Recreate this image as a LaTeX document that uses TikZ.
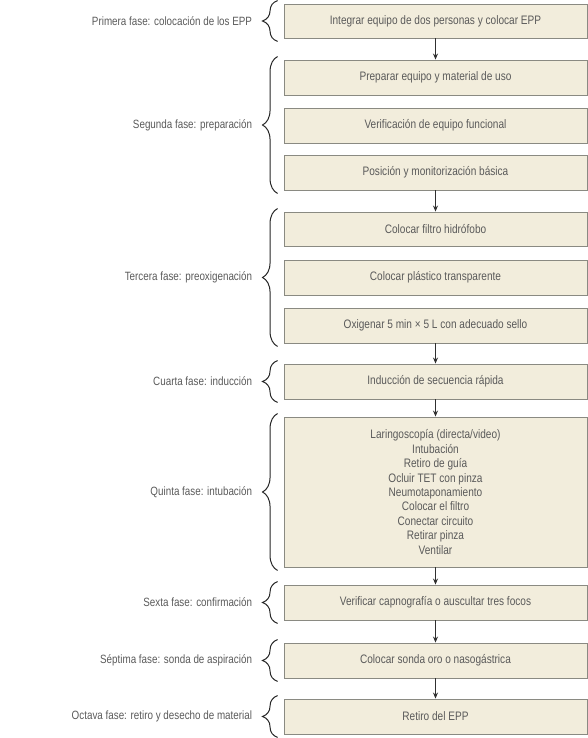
\documentclass[tikz,border=0pt]{standalone}
\usepackage{fontspec}
\setmainfont{Liberation Sans}[FakeStretch=0.82]
\usetikzlibrary{arrows.meta,decorations.pathreplacing}
\definecolor{boxfill}{HTML}{F2EDDC}
\definecolor{boxline}{HTML}{8A8A82}
\definecolor{txt}{HTML}{5A5A5A}
\definecolor{arr}{HTML}{303030}
\tikzset{
  stepbox/.style={draw=boxline, line width=0.9bp, fill=boxfill, minimum width=303bp, inner sep=0pt,
    font=\fontsize{12.3bp}{14.4bp}\selectfont, text=txt, align=center},
  flow/.style={draw=arr, line width=0.8bp, -{Stealth[length=6bp,width=5bp]}},
  phase/.style={draw=black!85, line width=1bp, decorate, decoration={brace, amplitude=15bp}},
  phaselabel/.style={left=25bp, font=\fontsize{12bp}{14.4bp}\selectfont, text=txt, inner sep=0pt}
}
\begin{document}
\begin{tikzpicture}[x=1bp,y=-1bp]
\useasboundingbox (0,0) rectangle (588,738);
\node[stepbox, minimum height=34bp] (b1) at (435.5,21) {Integrar equipo de dos personas y colocar EPP};
\node[stepbox, minimum height=35bp] (b2) at (435.5,77.5) {Preparar equipo y material de uso};
\node[stepbox, minimum height=35bp] (b3) at (435.5,125.5) {Verificación de equipo funcional};
\node[stepbox, minimum height=35bp] (b4) at (435.5,172.5) {Posición y monitorización básica};
\node[stepbox, minimum height=34bp] (b5) at (435.5,229) {Colocar filtro hidrófobo};
\node[stepbox, minimum height=35bp] (b6) at (435.5,277.5) {Colocar plástico transparente};
\node[stepbox, minimum height=35bp] (b7) at (435.5,325.5) {Oxigenar 5 min × 5 L con adecuado sello};
\node[stepbox, minimum height=35bp] (b8) at (435.5,381.5) {Inducción de secuencia rápida};
\node[stepbox, minimum height=150bp] (b9) at (435.5,492) {Laringoscopía (directa/video)\\Intubación\\Retiro de guía\\Ocluir TET con pinza\\Neumotaponamiento\\Colocar el filtro\\Conectar circuito\\Retirar pinza\\Ventilar};
\node[stepbox, minimum height=35bp] (b10) at (435.5,602.5) {Verificar capnografía o auscultar tres focos};
\node[stepbox, minimum height=35bp] (b11) at (435.5,660.5) {Colocar sonda oro o nasogástrica};
\node[stepbox, minimum height=35bp] (b12) at (435.5,716.5) {Retiro del EPP};

\foreach \a/\b in {b1/b2,b4/b5,b7/b8,b8/b9,b9/b10,b10/b11,b11/b12}
  \draw[flow] (\a.south) -- (\b.north);

\draw[phase] ([xshift=-6bp,yshift=-3bp]b1.south west) -- node[phaselabel]{Primera fase: colocación de los EPP} ([xshift=-6bp,yshift=3bp]b1.north west);
\draw[phase] ([xshift=-6bp,yshift=-3bp]b4.south west) -- node[phaselabel]{Segunda fase: preparación} ([xshift=-6bp,yshift=3bp]b2.north west);
\draw[phase] ([xshift=-6bp,yshift=-3bp]b7.south west) -- node[phaselabel]{Tercera fase: preoxigenación} ([xshift=-6bp,yshift=3bp]b5.north west);
\draw[phase] ([xshift=-6bp,yshift=-3bp]b8.south west) -- node[phaselabel]{Cuarta fase: inducción} ([xshift=-6bp,yshift=3bp]b8.north west);
\draw[phase] ([xshift=-6bp,yshift=-3bp]b9.south west) -- node[phaselabel]{Quinta fase: intubación} ([xshift=-6bp,yshift=3bp]b9.north west);
\draw[phase] ([xshift=-6bp,yshift=-3bp]b10.south west) -- node[phaselabel]{Sexta fase: confirmación} ([xshift=-6bp,yshift=3bp]b10.north west);
\draw[phase] ([xshift=-6bp,yshift=-3bp]b11.south west) -- node[phaselabel]{Séptima fase: sonda de aspiración} ([xshift=-6bp,yshift=3bp]b11.north west);
\draw[phase] ([xshift=-6bp,yshift=-3bp]b12.south west) -- node[phaselabel]{Octava fase: retiro y desecho de material} ([xshift=-6bp,yshift=3bp]b12.north west);
\end{tikzpicture}
\end{document}
